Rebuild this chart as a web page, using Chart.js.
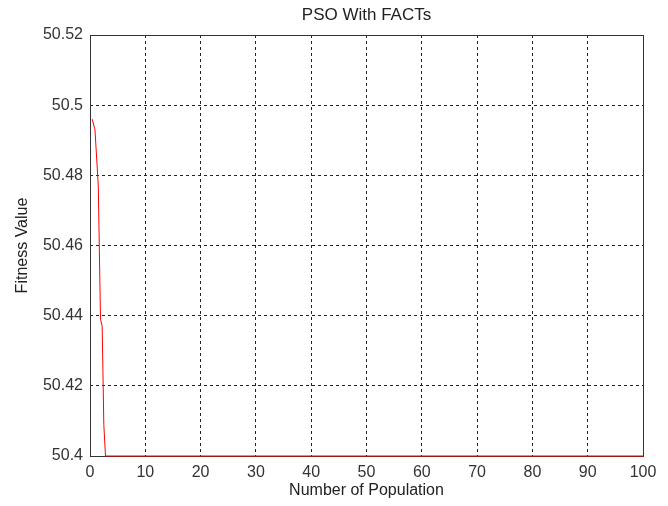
<!DOCTYPE html>
<html>
<head>
<meta charset="utf-8">
<script src="https://cdn.jsdelivr.net/npm/chart.js@4.4.1/dist/chart.umd.min.js"></script>
<style>
  html, body { margin: 0; padding: 0; background: #fff; }
  #wrap { width: 668px; height: 506px; }
</style>
</head>
<body>
<div id="wrap"><canvas id="psoChart"></canvas></div>
<script>
// ------------------------------
// PSO With FACTs - fitness curve
// ------------------------------

const xValues = [0.4, 0.9, 1.5, 1.9, 2.2, 2.5, 2.8, 10, 20, 30, 40, 50, 60, 70, 80, 90, 100];
const fitness = [50.496, 50.493, 50.477, 50.439, 50.437, 50.409, 50.4, 50.4, 50.4, 50.4, 50.4, 50.4, 50.4, 50.4, 50.4, 50.4, 50.4];

const xTicks = [0, 10, 20, 30, 40, 50, 60, 70, 80, 90, 100];
const yTicks = [50.4, 50.42, 50.44, 50.46, 50.48, 50.5, 50.52];

const font = "'Liberation Sans', Arial, sans-serif";

// solid box round the plot, like matlab axes
const frame = {
    id: "frame",
    beforeDatasetsDraw(chart) {
        const a = chart.chartArea;
        const ctx = chart.ctx;
        ctx.save();
        ctx.strokeStyle = "#333";
        ctx.lineWidth = 1;
        ctx.setLineDash([]);
        ctx.strokeRect(Math.round(a.left) + 0.5, Math.round(a.top) + 0.5, Math.round(a.right - a.left), Math.round(a.bottom - a.top));
        ctx.restore();
    }
};

const psoChart = new Chart(document.getElementById("psoChart"), {

    type: "line",

    data: {
        datasets: [{
            data: xValues.map((x, i) => ({ x: x, y: fitness[i] })),
            borderColor: "#ff0000",
            borderWidth: 1,
            pointRadius: 0,
            tension: 0,
            clip: false
        }]
    },

    options: {
        responsive: true,
        maintainAspectRatio: false,
        animation: false,
        layout: { padding: { left: 0, right: 25, top: 0, bottom: 0 } },
        plugins: {
            legend: { display: false },
            tooltip: { enabled: false },
            title: {
                display: true,
                text: "PSO With FACTs",
                fullSize: false,
                color: "#222",
                font: { family: font, size: 17, weight: "normal" },
                padding: { top: 4.8, bottom: 9.8 }
            }
        },
        scales: {
            x: {
                type: "linear",
                min: 0,
                max: 100,
                afterBuildTicks: (s) => { s.ticks = xTicks.map(v => ({ value: v })); },
                afterFit: (s) => { s.height = 50; },
                grid: { color: "#222", drawTicks: false },
                border: { display: false, dash: [3, 3] },
                ticks: { color: "#333", font: { family: font, size: 16 }, padding: 7, maxRotation: 0 },
                title: {
                    display: true,
                    text: "Number of Population",
                    color: "#222",
                    font: { family: font, size: 16 },
                    padding: { top: 0, bottom: 5.4 }
                }
            },
            y: {
                min: 50.4,
                max: 50.52,
                afterBuildTicks: (s) => { s.ticks = yTicks.map(v => ({ value: v })); },
                afterFit: (s) => { s.width = 90; },
                grid: { color: "#222", drawTicks: false },
                border: { display: false, dash: [3, 3] },
                ticks: {
                    color: "#333",
                    font: { family: font, size: 16 },
                    padding: 7,
                    callback: (v) => String(parseFloat(v.toFixed(2)))
                },
                title: {
                    display: true,
                    text: "Fitness Value",
                    color: "#222",
                    font: { family: font, size: 16 },
                    padding: { top: 13.4, bottom: 0 }
                }
            }
        }
    },

    plugins: [frame]

});
</script>
</body>
</html>
